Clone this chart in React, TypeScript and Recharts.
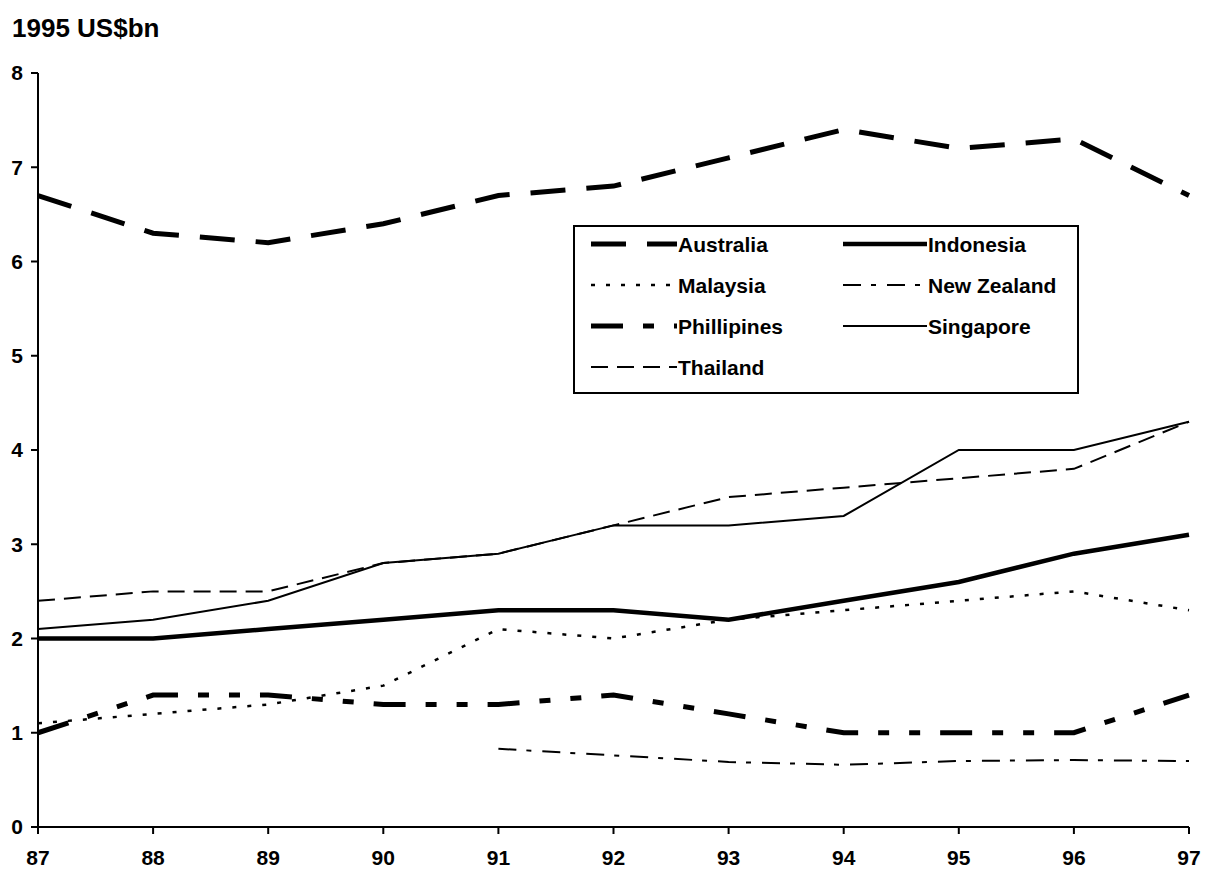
import React from "react";
import { LineChart, Line, XAxis, YAxis, Legend } from "recharts";

// Years 1987–1997, shown as two-digit labels
const years = [87, 88, 89, 90, 91, 92, 93, 94, 95, 96, 97];
const yTicks = [0, 1, 2, 3, 4, 5, 6, 7, 8];

// 1995 US$bn
const australia = [6.7, 6.3, 6.2, 6.4, 6.7, 6.8, 7.1, 7.4, 7.2, 7.3, 6.7];
const indonesia = [2.0, 2.0, 2.1, 2.2, 2.3, 2.3, 2.2, 2.4, 2.6, 2.9, 3.1];
const malaysia = [1.1, 1.2, 1.3, 1.5, 2.1, 2.0, 2.2, 2.3, 2.4, 2.5, 2.3];
const newZealand = [null, null, null, null, 0.83, 0.76, 0.69, 0.66, 0.7, 0.71, 0.7];
const phillipines = [1.0, 1.4, 1.4, 1.3, 1.3, 1.4, 1.2, 1.0, 1.0, 1.0, 1.4];
const singapore = [2.1, 2.2, 2.4, 2.8, 2.9, 3.2, 3.2, 3.3, 4.0, 4.0, 4.3];
const thailand = [2.4, 2.5, 2.5, 2.8, 2.9, 3.2, 3.5, 3.6, 3.7, 3.8, 4.3];

const FONT = '"Liberation Sans", Arial, sans-serif';

type Series = {
  key: string;
  name: string;
  width: number;
  dash?: string;
};

const series: Series[] = [
  { key: "australia", name: "Australia", width: 5, dash: "35 21" },
  { key: "indonesia", name: "Indonesia", width: 4.5 },
  { key: "malaysia", name: "Malaysia", width: 2.5, dash: "4 11" },
  { key: "newZealand", name: "New Zealand", width: 2, dash: "18 10 5 11" },
  { key: "phillipines", name: "Phillipines", width: 5, dash: "32 20 11 20 11 20" },
  { key: "singapore", name: "Singapore", width: 2 },
  { key: "thailand", name: "Thailand", width: 2, dash: "17 9" },
];

const data = years.map((year, i) => ({
  year,
  australia: australia[i],
  indonesia: indonesia[i],
  malaysia: malaysia[i],
  newZealand: newZealand[i],
  phillipines: phillipines[i],
  singapore: singapore[i],
  thailand: thailand[i],
}));

const LEGEND_W = 506;
const LEGEND_H = 169;

function LegendBox() {
  return (
    <div
      style={{
        width: LEGEND_W,
        height: LEGEND_H,
        boxSizing: "border-box",
        border: "2px solid #000",
        background: "#fff",
      }}
    >
      <svg width={LEGEND_W - 4} height={LEGEND_H - 4} style={{ display: "block" }}>
        {series.map((s, i) => {
          const col = i % 2;
          const row = Math.floor(i / 2);
          const x0 = col === 0 ? 16 : 268;
          const x1 = col === 0 ? 102 : 352;
          const y = 17 + row * 41;
          return (
            <g key={s.key}>
              <line
                x1={x0}
                x2={x1}
                y1={y}
                y2={y}
                stroke="#000"
                strokeWidth={s.width}
                strokeDasharray={s.dash}
              />
              <text
                x={x1 + 1}
                y={y}
                dy="0.36em"
                fontFamily={FONT}
                fontWeight="bold"
                fontSize={21}
                fill="#000"
              >
                {s.name}
              </text>
            </g>
          );
        })}
      </svg>
    </div>
  );
}

const tickStyle = {
  fontFamily: FONT,
  fontWeight: "bold" as const,
  fontSize: 21,
  fill: "#000",
};

export default function App() {
  return (
    <div style={{ position: "absolute", left: 0, top: 0, width: 1210, height: 870, background: "#fff" }}>
      <div
        style={{
          position: "absolute",
          left: 12,
          top: 15,
          fontFamily: FONT,
          fontWeight: "bold",
          fontSize: 26,
          lineHeight: "26px",
          color: "#000",
          zIndex: 2,
        }}
      >
        1995 US$bn
      </div>
      <LineChart
        width={1210}
        height={870}
        data={data}
        margin={{ top: 73, right: 21, bottom: 13, left: 8 }}
      >
        <XAxis
          dataKey="year"
          type="number"
          domain={[87, 97]}
          ticks={years}
          interval={0}
          height={30}
          tickSize={7}
          tickMargin={16}
          tick={tickStyle}
          axisLine={{ stroke: "#000", strokeWidth: 2 }}
          tickLine={{ stroke: "#000", strokeWidth: 2 }}
        />
        <YAxis
          domain={[0, 8]}
          ticks={yTicks}
          interval={0}
          width={30}
          tickSize={7}
          tickMargin={8}
          tick={tickStyle}
          axisLine={{ stroke: "#000", strokeWidth: 2 }}
          tickLine={{ stroke: "#000", strokeWidth: 2 }}
        />
        {series.map((s) => (
          <Line
            key={s.key}
            dataKey={s.key}
            name={s.name}
            type="linear"
            stroke="#000"
            strokeWidth={s.width}
            strokeDasharray={s.dash}
            dot={false}
            activeDot={false}
            connectNulls={false}
            isAnimationActive={false}
          />
        ))}
        <Legend
          layout="vertical"
          align="center"
          verticalAlign="middle"
          content={() => <LegendBox />}
          wrapperStyle={{ left: 573, top: 225, width: LEGEND_W, height: LEGEND_H }}
        />
      </LineChart>
    </div>
  );
}
